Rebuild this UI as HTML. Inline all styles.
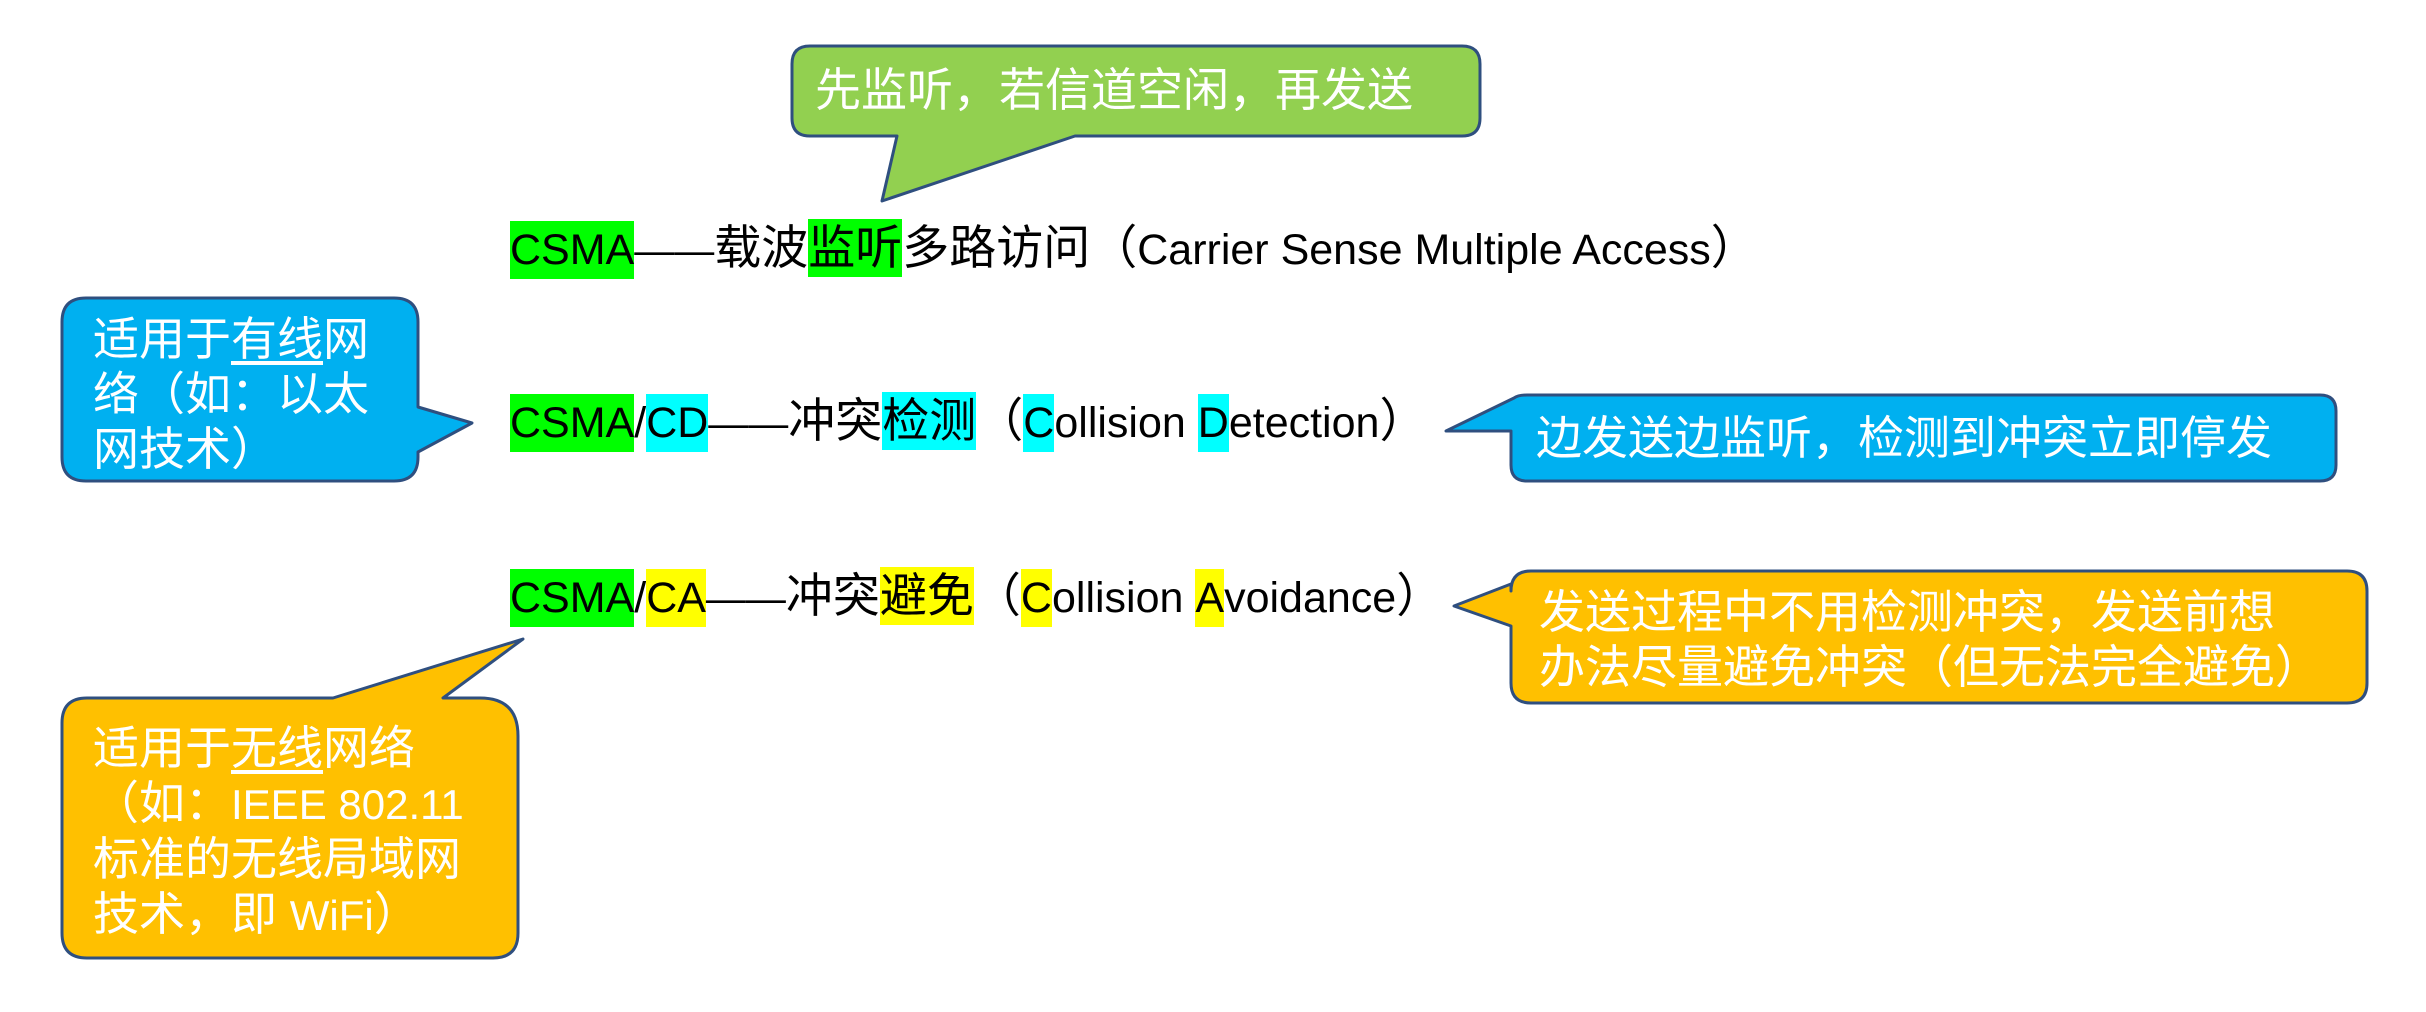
<!DOCTYPE html>
<html><head><meta charset="utf-8"><style>
html,body{margin:0;padding:0;background:#fff;}
body{width:2426px;height:1012px;position:relative;overflow:hidden;font-family:"Liberation Sans","Noto Sans CJK SC",sans-serif;}
svg{position:absolute;left:0;top:0;}
.t{position:absolute;white-space:nowrap;font-size:47px;line-height:58px;color:#000;}
.t span.h{display:inline-block;height:58px;}
.l{font-size:43px;}
.d{font-size:40px;}
.g{background:#00ff00;}.c{background:#00ffff;}.y{background:#ffff00;}
.w{position:absolute;color:#fff;font-size:46px;line-height:55px;white-space:nowrap;}
u{text-decoration:underline;text-underline-offset:6px;}
</style></head><body>
<svg width="2426" height="1012" viewBox="0 0 2426 1012">
<g stroke="#2f4f7f" stroke-width="3" stroke-linejoin="round">
<path fill="#92d050" d="M810,46 H1462 Q1480,46 1480,64 V118 Q1480,136 1462,136 H1075 L882,201 L897,136 H810 Q792,136 792,118 V64 Q792,46 810,46 Z"/>
<path fill="#00b0f0" d="M86,298 H394 Q418,298 418,322 V407 L472,423 L418,452 V457 Q418,481 394,481 H86 Q62,481 62,457 V322 Q62,298 86,298 Z"/>
<path fill="#00b0f0" d="M1527,395 H2320 Q2336,395 2336,411 V465 Q2336,481 2320,481 H1527 Q1511,481 1511,465 V431 L1446,431 L1514,398 Q1518,395 1527,395 Z"/>
<path fill="#ffc000" d="M1531,571 H2347 Q2367,571 2367,591 V683 Q2367,703 2347,703 H1531 Q1511,703 1511,683 V626 L1454,606 L1511,584 V591 Q1511,571 1531,571 Z"/>
<path fill="#ffc000" d="M87,698 H333 L523,639 L443,698 H480 Q518,698 518,736 V933 Q518,958 493,958 H87 Q62,958 62,933 V723 Q62,698 87,698 Z"/>
</g>
</svg>
<div class="w" style="left:815px;top:63px;">先监听，若信道空闲，再发送</div>
<div class="t" style="left:510px;top:219px;"><span class="h g l">CSMA</span><span class="d">——</span>载波<span class="h g">监听</span>多路访问（<span class="l">Carrier Sense Multiple Access</span>）</div>
<div class="t" style="left:510px;top:392px;"><span class="h g l">CSMA</span><span class="l">/</span><span class="h c l">CD</span><span class="d">——</span>冲突<span class="h c">检测</span>（<span class="h c l">C</span><span class="l">ollision </span><span class="h c l">D</span><span class="l">etection</span>）</div>
<div class="t" style="left:510px;top:567px;"><span class="h g l">CSMA</span><span class="l">/</span><span class="h y l">CA</span><span class="d">——</span>冲突<span class="h y">避免</span>（<span class="h y l">C</span><span class="l">ollision </span><span class="h y l">A</span><span class="l">voidance</span>）</div>
<div class="w" style="left:93px;top:312px;">适用于<u>有线</u>网<br>络（如：以太<br>网技术）</div>
<div class="w" style="left:1536px;top:411px;">边发送边监听，检测到冲突立即停发</div>
<div class="w" style="left:1539px;top:585px;">发送过程中不用检测冲突，发送前想<br>办法尽量避免冲突（但无法完全避免）</div>
<div class="w" style="left:93px;top:721px;">适用于<u>无线</u>网络<br>（如：<span style="font-size:42px">IEEE 802.11</span><br>标准的无线局域网<br>技术，即 <span style="font-size:42px">WiFi</span>）</div>
</body></html>
